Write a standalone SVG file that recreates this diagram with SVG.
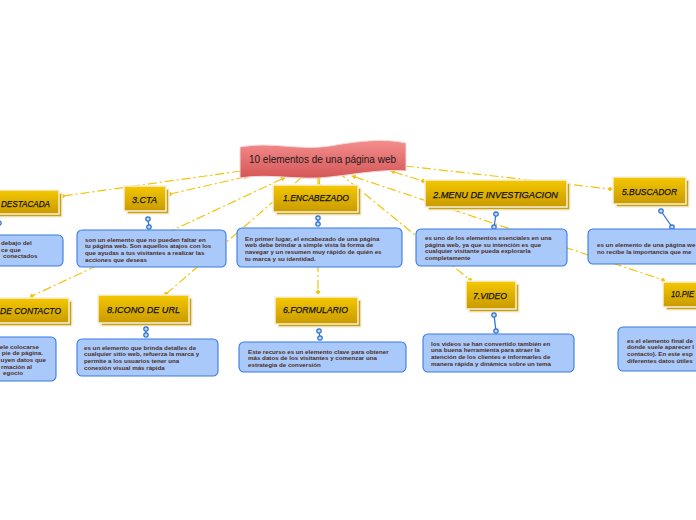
<svg xmlns="http://www.w3.org/2000/svg" width="696" height="520" viewBox="0 0 696 520">
<style>
.conn{fill:none;stroke:#f2c40a;stroke-width:1.2;stroke-dasharray:9 3 2 3;marker-start:url(#arr);marker-end:url(#dot)}
.tb{fill:url(#gold);stroke:#f6f0e0;stroke-width:1.5}
.ts{fill:#c9a010;stroke:#f6f0e0;stroke-width:1.5}
.tt{font-family:"Liberation Sans",Arial,sans-serif;font-style:italic;font-size:9.5px;fill:#111;stroke:#111;stroke-width:0.25}
.db{fill:#a9c9fb;stroke:#3a7ae0;stroke-width:1.1}
.dt{font-family:"Liberation Sans",Arial,sans-serif;font-weight:bold;font-size:6.2px;fill:#4b2e22}
.lk{stroke:#2a6fd6;stroke-width:1.2}
.ck{fill:#c4dafa;stroke:#2a6fd6;stroke-width:1.2}
</style>
<defs>
<linearGradient id="gold" x1="0" y1="0" x2="0" y2="1">
<stop offset="0" stop-color="#f4c800"/>
<stop offset="1" stop-color="#c99a00"/>
</linearGradient>
<linearGradient id="red" x1="0" y1="0" x2="0" y2="1">
<stop offset="0" stop-color="#f48e8e"/>
<stop offset="1" stop-color="#d55656"/>
</linearGradient>
<marker id="arr" viewBox="0 0 6 6" refX="1" refY="3" markerWidth="5" markerHeight="5" orient="auto-start-reverse" markerUnits="userSpaceOnUse">
<path d="M0,0 L6,3 L0,6 Z" fill="#f2c40a"/>
</marker>
<marker id="dot" viewBox="0 0 6 6" refX="3" refY="3" markerWidth="5" markerHeight="5" orient="auto" markerUnits="userSpaceOnUse">
<path d="M3,0 L6,3 L3,6 L0,3 Z" fill="#f2c40a"/>
</marker>
</defs>
<rect width="696" height="520" fill="#ffffff"/>

<g id="connectors">
<path class="conn" d="M241,171 L63,196"/>
<path class="conn" d="M245,177 L170,194"/>
<path class="conn" d="M282,179 L32,296"/>
<path class="conn" d="M302,177 L166,294"/>
<path class="conn" d="M320,177 L319,185"/>
<path class="conn" d="M318,178 L318,292"/>
<path class="conn" d="M338,172 L470,280"/>
<path class="conn" d="M355,177 L663,280"/>
<path class="conn" d="M394,172 L423,181"/>
<path class="conn" d="M405,166 L610,189"/>
</g>

<g id="central">
<path d="M240,147 C272,141 300,151 330,146 C358,141 384,138 406,143 L406,171 C382,169 358,174 330,177 C300,181 270,173 240,178 Z" fill="url(#red)" stroke="#f6d6d6" stroke-width="1"/>
<text x="249" y="163" textLength="147" lengthAdjust="spacingAndGlyphs" font-family="'Liberation Sans',Arial,sans-serif" font-size="10.5" fill="#1a1a1a">10 elementos de una página web</text>
</g>

<g id="destacada">
<rect class="ts" x="-10" y="193" width="72" height="24"/>
<rect class="tb" x="-10" y="190" width="69" height="24"/>
<text class="tt" x="1" y="207" textLength="49" lengthAdjust="spacingAndGlyphs">DESTACADA</text>
<circle class="ck" cx="-1" cy="223" r="2.2"/>
<rect class="db" x="-10" y="235" width="73" height="31" rx="5"/>
<text class="dt"><tspan x="1" y="245">debajo del</tspan><tspan x="1" y="251.7">ce que</tspan><tspan x="3" y="258.4">conectados</tspan></text>
</g>

<g id="cta">
<rect class="ts" x="127" y="189" width="42" height="25"/>
<rect class="tb" x="124" y="186" width="42" height="25"/>
<text class="tt" x="132" y="203" textLength="25" lengthAdjust="spacingAndGlyphs">3.CTA</text>
<line class="lk" x1="148" y1="219" x2="149" y2="227"/>
<circle class="ck" cx="148" cy="219" r="2.2"/>
<circle class="ck" cx="149" cy="227" r="2.2"/>
<rect class="db" x="77" y="230" width="149" height="37" rx="5"/>
<text class="dt"><tspan x="85" y="241.5">son un elemento que no pueden faltar en</tspan><tspan x="85" y="248.2">tu página web. Son aquellos atajos con los</tspan><tspan x="85" y="254.9">que ayudas a tus visitantes a realizar las</tspan><tspan x="85" y="261.6">acciones que deseas</tspan></text>
</g>

<g id="encabezado">
<rect class="ts" x="276" y="188" width="85" height="27"/>
<rect class="tb" x="273" y="185" width="85" height="27"/>
<text class="tt" x="283" y="201" textLength="66" lengthAdjust="spacingAndGlyphs">1.ENCABEZADO</text>
<line class="lk" x1="318" y1="218" x2="318" y2="224"/>
<circle class="ck" cx="318" cy="218" r="2.2"/>
<circle class="ck" cx="318" cy="224" r="2.2"/>
<rect class="db" x="237" y="228" width="165" height="39" rx="5"/>
<text class="dt"><tspan x="245" y="240.5">En primer lugar, el encabezado de una página</tspan><tspan x="245" y="247.2">web debe brindar a simple vista la forma de</tspan><tspan x="245" y="253.9">navegar y un resumen muy rápido de quién es</tspan><tspan x="245" y="260.6">tu marca y su identidad.</tspan></text>
</g>

<g id="menu">
<rect class="ts" x="428" y="183" width="142" height="27"/>
<rect class="tb" x="425" y="180" width="142" height="27"/>
<text class="tt" x="433" y="198" textLength="125" lengthAdjust="spacingAndGlyphs">2.MENU DE INVESTIGACION</text>
<line class="lk" x1="496" y1="214" x2="494" y2="227"/>
<circle class="ck" cx="496" cy="214" r="2.2"/>
<circle class="ck" cx="494" cy="227" r="2.2"/>
<rect class="db" x="416" y="229" width="151" height="37" rx="5"/>
<text class="dt"><tspan x="425" y="240">es uno de los elementos esenciales en una</tspan><tspan x="425" y="246.7">página web, ya que su intención es que</tspan><tspan x="425" y="253.4">cualquier visitante pueda explorarla</tspan><tspan x="425" y="260.1">completamente</tspan></text>
</g>

<g id="buscador">
<rect class="ts" x="616" y="180" width="73" height="27"/>
<rect class="tb" x="613" y="177" width="73" height="27"/>
<text class="tt" x="622" y="195" textLength="55" lengthAdjust="spacingAndGlyphs">5.BUSCADOR</text>
<line class="lk" x1="661" y1="211" x2="672" y2="227"/>
<circle class="ck" cx="661" cy="211" r="2.2"/>
<circle class="ck" cx="672" cy="227" r="2.2"/>
<rect class="db" x="588" y="229" width="120" height="35" rx="5"/>
<text class="dt"><tspan x="597" y="247">es un elemento de una página we</tspan><tspan x="597" y="253.7">no recibe la importancia que me</tspan></text>
</g>

<g id="contacto">
<rect class="ts" x="-10" y="301" width="82" height="25"/>
<rect class="tb" x="-10" y="298" width="79" height="25"/>
<text class="tt" x="0" y="314" textLength="61" lengthAdjust="spacingAndGlyphs">DE CONTACTO</text>
<rect class="db" x="-10" y="337" width="66" height="44" rx="5"/>
<text class="dt" text-anchor="end"><tspan x="39" y="348.5">ele colocarse</tspan><tspan x="43" y="355.2">pie de página.</tspan><tspan x="46" y="361.9">uyen datos que</tspan><tspan x="32" y="368.6">rmación al</tspan><tspan x="23" y="375.3">egocio</tspan></text>
</g>

<g id="icono-url">
<rect class="ts" x="101" y="298" width="91" height="28"/>
<rect class="tb" x="98" y="295" width="91" height="28"/>
<text class="tt" x="107" y="313" textLength="73" lengthAdjust="spacingAndGlyphs">8.ICONO DE URL</text>
<line class="lk" x1="146" y1="329" x2="146" y2="335"/>
<circle class="ck" cx="146" cy="329" r="2.2"/>
<circle class="ck" cx="146" cy="335" r="2.2"/>
<rect class="db" x="77" y="339" width="141" height="37" rx="5"/>
<text class="dt"><tspan x="84" y="349.5">es un elemento que brinda detalles de</tspan><tspan x="84" y="356.2">cualquier sitio web, refuerza la marca y</tspan><tspan x="84" y="362.9">permite a los usuarios tener una</tspan><tspan x="84" y="369.6">conexión visual más rápida</tspan></text>
</g>

<g id="formulario">
<rect class="ts" x="278" y="300" width="83" height="27"/>
<rect class="tb" x="275" y="297" width="83" height="27"/>
<text class="tt" x="283" y="313" textLength="65" lengthAdjust="spacingAndGlyphs">6.FORMULARIO</text>
<line class="lk" x1="319" y1="331" x2="320" y2="338"/>
<circle class="ck" cx="319" cy="331" r="2.2"/>
<circle class="ck" cx="320" cy="338" r="2.2"/>
<rect class="db" x="239" y="342" width="167" height="30" rx="5"/>
<text class="dt"><tspan x="248" y="353.5">Este recurso es un elemento clave para obtener</tspan><tspan x="248" y="360.2">más datos de los visitantes y comenzar una</tspan><tspan x="248" y="366.9">estrategia de conversión</tspan></text>
</g>

<g id="video">
<rect class="ts" x="469" y="284" width="50" height="28"/>
<rect class="tb" x="466" y="281" width="50" height="28"/>
<text class="tt" x="473" y="299" textLength="34" lengthAdjust="spacingAndGlyphs">7.VIDEO</text>
<line class="lk" x1="494" y1="315" x2="496" y2="331"/>
<circle class="ck" cx="494" cy="315" r="2.2"/>
<circle class="ck" cx="496" cy="331" r="2.2"/>
<rect class="db" x="423" y="334" width="151" height="38" rx="5"/>
<text class="dt"><tspan x="431" y="345.5">los videos se han convertido también en</tspan><tspan x="431" y="352.2">una buena herramienta para atraer la</tspan><tspan x="431" y="358.9">atención de los clientes e informarles de</tspan><tspan x="431" y="365.6">manera rápida y dinámica sobre un tema</tspan></text>
</g>

<g id="pie">
<rect class="ts" x="666" y="285" width="50" height="25"/>
<rect class="tb" x="663" y="282" width="50" height="25"/>
<text class="tt" x="671" y="297" textLength="23" lengthAdjust="spacingAndGlyphs">10.PIE</text>
<rect class="db" x="618" y="327" width="90" height="44" rx="5"/>
<text class="dt"><tspan x="627" y="342.5">es el elemento final de</tspan><tspan x="627" y="349.2">donde suele aparecer l</tspan><tspan x="627" y="355.9">contacto). En este esp</tspan><tspan x="627" y="362.6">diferentes datos útiles</tspan></text>
</g>
</svg>
